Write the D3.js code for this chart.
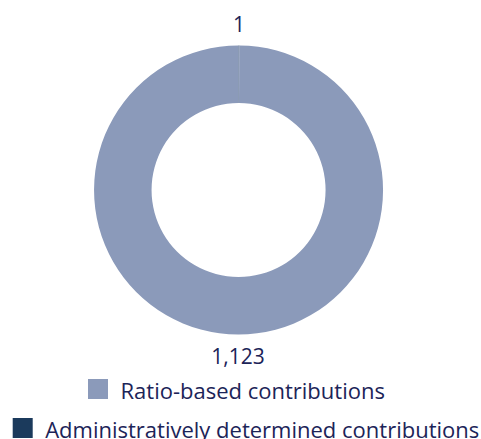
<!DOCTYPE html>
<html><head><meta charset="utf-8">
<script src="https://cdn.jsdelivr.net/npm/d3@7"></script>
<style>body{margin:0;background:#fff;}svg{display:block;font-family:"Open Sans",sans-serif;}</style>
</head><body>
<svg id="c" width="481" height="439"></svg>
<script>
const categories = ["Administratively determined contributions", "Ratio-based contributions"];
const values = [1, 1123];
const labels = ["1", "1,123"];
const colors = ["#1b3a5c", "#8b9aba"];
const legendOrder = [1, 0];

const svg = d3.select("#c");
const cx = 238.5, cy = 190, R = 144.5, r = 87;
const g = svg.append("g").attr("transform", `translate(${cx},${cy})`);
const pie = d3.pie().sort(null).value(d => d)(values);
const arc = d3.arc().innerRadius(r).outerRadius(R);
g.selectAll("path").data(pie).join("path")
  .attr("d", arc).attr("fill", (d, i) => colors[i]);
const labArc = d3.arc().innerRadius(166).outerRadius(166);
g.selectAll("text.lab").data(pie).join("text").attr("class", "lab")
  .attr("transform", d => `translate(${labArc.centroid(d)})`)
  .attr("text-anchor", "middle").attr("dy", "0.36em")
  .attr("font-size", 21).attr("fill", "#1c2458")
  .text((d, i) => labels[i]);

// legend
const legendY = [389, 428];
const legendX = [88, 12.7];
legendOrder.forEach((idx, k) => {
  const lg = svg.append("g").attr("transform", `translate(${legendX[k]},${legendY[k]})`);
  lg.append("rect").attr("x", 0).attr("y", -10).attr("width", 20).attr("height", 20)
    .attr("fill", colors[idx]);
  lg.append("text").attr("x", 32.5).attr("y", 10)
    .attr("font-size", 22).attr("fill", "#1c2458").text(categories[idx]);
});
</script>
</body></html>
